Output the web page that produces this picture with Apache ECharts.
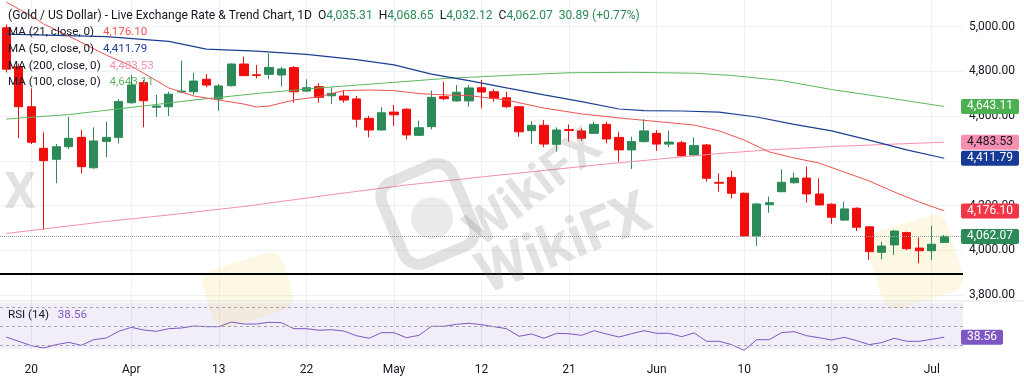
<!DOCTYPE html>
<html>
<head>
<meta charset="utf-8">
<script src="https://cdn.jsdelivr.net/npm/echarts@6.0.0/dist/echarts.min.js"></script>
<style>
  html, body { margin: 0; padding: 0; background: #fff; }
  #chart { width: 1024px; height: 390px; }
</style>
</head>
<body>
<div id="chart"></div>
<script>
// trading days, Mar 18 .. Jul 3 (last one is empty room on the right)
const dates = [
  "2026-03-18", "2026-03-19", "2026-03-20", "2026-03-23", "2026-03-24", "2026-03-25", "2026-03-26", "2026-03-27", "2026-03-30", "2026-03-31",
  "2026-04-01", "2026-04-02", "2026-04-06", "2026-04-07", "2026-04-08", "2026-04-09", "2026-04-10", "2026-04-13", "2026-04-14", "2026-04-15",
  "2026-04-16", "2026-04-17", "2026-04-20", "2026-04-21", "2026-04-22", "2026-04-23", "2026-04-24", "2026-04-27", "2026-04-28", "2026-04-29",
  "2026-04-30", "2026-05-01", "2026-05-04", "2026-05-05", "2026-05-06", "2026-05-07", "2026-05-08", "2026-05-11", "2026-05-12", "2026-05-13",
  "2026-05-14", "2026-05-15", "2026-05-18", "2026-05-19", "2026-05-20", "2026-05-21", "2026-05-22", "2026-05-25", "2026-05-26", "2026-05-27",
  "2026-05-28", "2026-05-29", "2026-06-01", "2026-06-02", "2026-06-03", "2026-06-04", "2026-06-05", "2026-06-08", "2026-06-09", "2026-06-10",
  "2026-06-11", "2026-06-12", "2026-06-15", "2026-06-16", "2026-06-17", "2026-06-18", "2026-06-19", "2026-06-22", "2026-06-23", "2026-06-24",
  "2026-06-25", "2026-06-26", "2026-06-29", "2026-06-30", "2026-07-01", "2026-07-02", "2026-07-03"
];
const tickIdx = [2, 10, 17, 24, 31, 38, 45, 52, 59, 66, 74];
const tickText = ["20", "Apr", "13", "22", "May", "12", "21", "Jun", "10", "19", "Jul"];

const opens = [
  4995, 4821, 4642, 4456, 4407, 4463, 4505, 4369, 4487, 4505,
  4660, 4750, 4640, 4642, 4708, 4709, 4765, 4677, 4736, 4833,
  4785, 4787, 4784, 4817, 4712, 4732, 4691, 4690, 4677, 4590,
  4538, 4618, 4631, 4514, 4553, 4687, 4668, 4668, 4727, 4709,
  4682, 4642, 4535, 4559, 4474, 4540, 4534, 4523, 4563, 4505,
  4449, 4486, 4523, 4475, 4481, 4426, 4471, 4304, 4326, 4255,
  4064, 4204, 4262, 4302, 4323, 4252, 4206, 4135, 4188, 4105,
  3991, 4024, 4079, 4010, 3998, 4035.31
];
const closes = [
  4810, 4642, 4483, 4401, 4463, 4501, 4374, 4489, 4505, 4665,
  4739, 4669, 4645, 4698, 4712, 4757, 4739, 4735, 4833, 4781,
  4782, 4818, 4811, 4709, 4727, 4684, 4702, 4672, 4586, 4538,
  4615, 4606, 4516, 4548, 4684, 4678, 4707, 4726, 4708, 4680,
  4642, 4530, 4559, 4475, 4538, 4536, 4501, 4563, 4498, 4449,
  4486, 4534, 4475, 4484, 4423, 4468, 4322, 4300, 4255, 4064,
  4207, 4213, 4304, 4323, 4252, 4203, 4148, 4185, 4103, 3994,
  4019, 4086, 4007, 3998, 4027, 4062.07
];
const lows = [
  4795, 4501, 4475, 4091, 4300, 4452, 4344, 4365, 4416, 4478,
  4655, 4550, 4597, 4601, 4702, 4695, 4729, 4624, 4733, 4779,
  4769, 4765, 4732, 4660, 4709, 4660, 4654, 4660, 4550, 4505,
  4535, 4556, 4496, 4512, 4541, 4672, 4665, 4642, 4635, 4665,
  4637, 4508, 4475, 4461, 4441, 4486, 4490, 4520, 4478, 4396,
  4364, 4483, 4444, 4461, 4418, 4420, 4307, 4262, 4232, 4062,
  4020, 4168, 4260, 4298, 4213, 4200, 4118, 4132, 4086, 3957,
  3960, 3979, 4001, 3942, 3957, 4032.12
];
const highs = [
  5010, 4835, 4724, 4528, 4475, 4597, 4538, 4550, 4575, 4677,
  4784, 4762, 4695, 4709, 4848, 4794, 4788, 4744, 4836, 4866,
  4829, 4881, 4821, 4824, 4765, 4747, 4729, 4717, 4690, 4602,
  4640, 4650, 4635, 4580, 4714, 4754, 4739, 4739, 4762, 4720,
  4709, 4646, 4578, 4583, 4550, 4563, 4546, 4575, 4575, 4530,
  4508, 4586, 4538, 4535, 4490, 4505, 4475, 4344, 4356, 4258,
  4212, 4240, 4362, 4347, 4374, 4322, 4210, 4217, 4192, 4108,
  4038, 4090, 4083, 4058, 4109, 4068.65
];

// moving averages: [day index, value]
const ma21 = [
  [0, 5110], [2, 5048], [3, 5012], [5, 4958], [8, 4873], [10, 4824], [13, 4726], [15, 4690],
  [17, 4672], [19, 4654], [20, 4641], [21, 4645], [23, 4672], [25, 4687], [27, 4714], [29, 4717],
  [31, 4714], [33, 4701], [35, 4695], [37, 4692], [40, 4672], [43, 4636], [46, 4610], [49, 4592],
  [52, 4576], [55, 4560], [57, 4534], [59, 4493], [61, 4440], [63, 4413], [65, 4390], [67, 4350],
  [69, 4310], [71, 4261], [73, 4216], [75, 4176.10]
];
const ma50 = [
  [0, 4967], [8, 4956], [13, 4934], [16, 4900], [20, 4891], [24, 4876], [28, 4853], [31, 4829],
  [34, 4788], [37, 4759], [40, 4726], [43, 4695], [46, 4665], [49, 4632], [51, 4625], [54, 4623],
  [57, 4618], [60, 4596], [63, 4563], [66, 4534], [69, 4493], [72, 4449], [75, 4411.79]
];
const ma100 = [
  [0, 4587], [5, 4607], [10, 4639], [15, 4672], [20, 4701], [25, 4726], [30, 4747], [35, 4768],
  [40, 4782], [45, 4794], [50, 4796], [55, 4792], [58, 4782], [62, 4759], [66, 4719], [70, 4686],
  [75, 4643.11]
];
const ma200 = [
  [0, 4075], [8, 4129], [13, 4158], [19, 4196], [27, 4256], [32, 4292], [38, 4328], [48, 4386],
  [57, 4433], [61, 4449], [66, 4464], [75, 4483.53]
];

const rsi = [
  38.7, 34.2, 29.6, 27.2, 30.7, 33.1, 30.0, 35.9, 37.7, 44.7,
  48.9, 46.1, 44.7, 47.5, 48.2, 50.3, 49.6, 49.6, 54.5, 52.4,
  52.4, 54.2, 53.8, 47.5, 47.5, 45.8, 46.4, 45.0, 40.1, 37.4,
  43.3, 43.3, 38.0, 40.5, 50.0, 50.0, 52.1, 53.2, 51.7, 49.6,
  47.5, 39.5, 41.9, 37.4, 42.6, 42.2, 40.5, 45.4, 41.9, 38.7,
  42.2, 45.4, 42.6, 42.6, 39.1, 43.0, 34.2, 34.2, 30.7, 24.7,
  35.9, 35.9, 43.3, 44.4, 40.1, 38.0, 35.6, 38.4, 34.9, 30.7,
  32.8, 37.4, 34.2, 34.2, 36.3, 38.56
];

const supportLevel = 3897;

const UP = "#2b8a57";
const DOWN = "#f20d0d";
const FONT = "Roboto";
const GRID_LINE = "#eef0f5";

// price scale: labels 3,800..5,000 between y=26.7 and y=295, main pane is 0..300
const labelTop = 26.7;
const labelHeight = 268.3;
const pxPerUnit = labelHeight / 1200;
const mainMax = 5000 + labelTop / pxPerUnit;
const mainMin = 3800 - (300 - labelTop - labelHeight) / pxPerUnit;

const candles = opens.map((o, i) => [o, closes[i], lows[i], highs[i]]);
const lastIdx = closes.length - 1;

const fmt = (v) => v.toLocaleString("en-US", { minimumFractionDigits: 2, maximumFractionDigits: 2 });

const chart = echarts.init(document.getElementById("chart"), null, { renderer: "canvas" });

const option = {
  animation: false,
  backgroundColor: "#ffffff",
  textStyle: { fontFamily: FONT },
  grid: [
    { left: -5.6, right: 61, top: 0, height: 300 },
    { left: -5.6, right: 61, top: 299.7, height: 53.2 },
    { left: -5.6, right: 61, top: labelTop, height: labelHeight }
  ],
  xAxis: [
    {
      type: "category",
      gridIndex: 0,
      data: dates,
      boundaryGap: true,
      axisLine: { show: false },
      axisTick: { show: false },
      axisLabel: { show: false },
      splitLine: {
        show: true,
        alignWithLabel: true,
        interval: (i) => tickIdx.includes(i),
        lineStyle: { color: GRID_LINE, width: 1 }
      }
    },
    {
      type: "category",
      gridIndex: 1,
      data: dates,
      boundaryGap: true,
      axisLine: { show: false },
      axisTick: { show: false },
      axisLabel: {
        interval: (i) => tickIdx.includes(i),
        formatter: (v, i) => tickText[tickIdx.indexOf(i)] || "",
        color: "#131722",
        fontSize: 12,
        fontFamily: FONT,
        margin: 11
      },
      splitLine: {
        show: true,
        alignWithLabel: true,
        interval: (i) => tickIdx.includes(i),
        lineStyle: { color: GRID_LINE, width: 1 }
      }
    },
    { type: "value", gridIndex: 2, min: 0, max: 1, show: false }
  ],
  yAxis: [
    { type: "value", gridIndex: 0, min: mainMin, max: mainMax, show: false },
    { type: "value", gridIndex: 1, min: 22, max: 78, show: false },
    {
      type: "value",
      gridIndex: 2,
      position: "right",
      min: 3800,
      max: 5000,
      interval: 200,
      axisLine: { show: false },
      axisTick: { show: false },
      axisLabel: {
        formatter: (v) => fmt(v),
        color: "#131722",
        fontSize: 12,
        fontFamily: FONT,
        margin: 6
      },
      splitLine: { lineStyle: { color: GRID_LINE, width: 1 } }
    }
  ],
  series: [
    {
      name: "MA200",
      type: "line",
      xAxisIndex: 0,
      yAxisIndex: 0,
      data: ma200,
      showSymbol: false,
      silent: true,
      lineStyle: { color: "#f48fb1", width: 1 }
    },
    {
      name: "MA100",
      type: "line",
      xAxisIndex: 0,
      yAxisIndex: 0,
      data: ma100,
      showSymbol: false,
      silent: true,
      lineStyle: { color: "#5cb860", width: 1 }
    },
    {
      name: "MA50",
      type: "line",
      xAxisIndex: 0,
      yAxisIndex: 0,
      data: ma50,
      showSymbol: false,
      silent: true,
      lineStyle: { color: "#1c3f94", width: 1.2 }
    },
    {
      name: "MA21",
      type: "line",
      xAxisIndex: 0,
      yAxisIndex: 0,
      data: ma21,
      showSymbol: false,
      silent: true,
      lineStyle: { color: "#ef5350", width: 1 }
    },
    {
      name: "XAUUSD",
      type: "candlestick",
      xAxisIndex: 0,
      yAxisIndex: 0,
      data: candles,
      barWidth: "70%",
      itemStyle: {
        color: UP,
        color0: DOWN,
        borderColor: UP,
        borderColor0: DOWN,
        borderWidth: 1
      },
      markLine: {
        silent: true,
        symbol: ["none", "none"],
        label: { show: false },
        data: [
          { yAxis: supportLevel, lineStyle: { color: "#000000", width: 2, type: "solid" } },
          { yAxis: closes[lastIdx], lineStyle: { color: "#9a9ea8", width: 1, type: "dotted" } }
        ]
      }
    },
    {
      name: "RSI",
      type: "line",
      xAxisIndex: 1,
      yAxisIndex: 1,
      data: rsi,
      showSymbol: false,
      silent: true,
      lineStyle: { color: "#7e57c2", width: 1 },
      markArea: {
        silent: true,
        itemStyle: { color: "rgba(126,87,194,0.1)" },
        data: [[{ yAxis: 26.5 }, { yAxis: 74.5 }]]
      },
      markLine: {
        silent: true,
        symbol: ["none", "none"],
        label: { show: false },
        lineStyle: { color: "#a3a6af", width: 1, type: [3, 3] },
        data: [{ yAxis: 70 }, { yAxis: 50 }, { yAxis: 30 }]
      }
    }
  ]
};

chart.setOption(option);

// legend texts, top left
const txt = (y, text, rich, size) => ({
  type: "text",
  x: 8,
  y: y,
  z: 20,
  style: {
    text: text,
    fontFamily: FONT,
    fontSize: size,
    fill: "#131722",
    verticalAlign: "middle",
    rich: rich
  }
});
const sty = (color, size) => ({ fill: color, fontSize: size, fontFamily: FONT });
const maRich = (color) => ({ d: sty("#131722", 11.6), v: Object.assign(sty(color, 11.6), { padding: [0, 0, 0, 3] }) });
const legendEls = [
  txt(15.7,
    "{d|(Gold / US Dollar) - Live Exchange Rate & Trend Chart, 1D}  {d|O}{g|4,035.31}  {d|H}{g|4,068.65}  {d|L}{g|4,032.12}  {d|C}{g|4,062.07}  {g|30.89 (+0.77%)}",
    { d: sty("#131722", 12.1), g: sty("#2b8a57", 12.1) }, 12.1),
  txt(32.3, "{d|MA (21, close, 0)}  {v|" + fmt(ma21[ma21.length - 1][1]) + "}", maRich("#ef5350"), 11.6),
  txt(49.3, "{d|MA (50, close, 0)}  {v|" + fmt(ma50[ma50.length - 1][1]) + "}", maRich("#1c3f94"), 11.6),
  txt(66, "{d|MA (200, close, 0)}  {v|" + fmt(ma200[ma200.length - 1][1]) + "}", maRich("#f48fb1"), 11.6),
  txt(82.5, "{d|MA (100, close, 0)}  {v|" + fmt(ma100[ma100.length - 1][1]) + "}", maRich("#5cb860"), 11.6),
  txt(315.5, "{d|RSI (14)}  {v|" + rsi[rsi.length - 1].toFixed(2) + "}", maRich("#7e57c2"), 11.6)
];

// WikiFX watermark
const WM = "rgba(110,110,110,0.2)";
const watermarkEls = [
  { type: "rect", x: 915, y: 262, rotation: 0.3, z: 1, shape: { x: -42, y: -40, width: 84, height: 80, r: 14 }, style: { fill: "rgba(246,220,120,0.2)" } },
  { type: "rect", x: 248, y: 290, rotation: 0.3, z: 1, shape: { x: -42, y: -30, width: 84, height: 60, r: 14 }, style: { fill: "rgba(246,220,120,0.2)" } },
  { type: "rect", x: 428, y: 214, rotation: 0.4, z: 21, shape: { x: -38, y: -44, width: 76, height: 88, r: 16 }, style: { fill: "none", stroke: WM, lineWidth: 11 } },
  { type: "circle", x: 432, y: 218, z: 21, shape: { r: 21 }, style: { fill: "rgba(110,110,110,0.14)" } },
  { type: "text", x: 535, y: 190, rotation: 0.66, z: 21, style: { text: "WikiFX", fontFamily: FONT, fontWeight: "bold", fontSize: 50, fill: WM, align: "center", verticalAlign: "middle" } },
  { type: "text", x: 565, y: 247, rotation: 0.38, z: 21, style: { text: "WikiFX", fontFamily: FONT, fontWeight: "bold", fontSize: 58, fill: WM, align: "center", verticalAlign: "middle" } },
  { type: "text", x: 20, y: 195, z: 21, style: { text: "X", fontFamily: FONT, fontWeight: "bold", fontSize: 50, fill: WM, align: "center", verticalAlign: "middle" } }
];

// pane separator
const sepEls = [
  { type: "line", z: 5, shape: { x1: 0, y1: 301, x2: 1024, y2: 301 }, style: { stroke: "#e0e3eb", lineWidth: 1 } }
];

// value tags on the price scale, placed through the axes
const tagDefs = [
  { v: ma100[ma100.length - 1][1], bg: "#4caf50", fg: "#ffffff" },
  { v: ma200[ma200.length - 1][1], bg: "#f48fb1", fg: "#131722" },
  { v: ma50[ma50.length - 1][1], bg: "#173b95", fg: "#ffffff" },
  { v: ma21[ma21.length - 1][1], bg: "#f23645", fg: "#ffffff" },
  { v: closes[lastIdx], bg: "#2b8a57", fg: "#ffffff" }
];
const tagEls = [];
let prevY = -100;
tagDefs.forEach((t) => {
  let y = chart.convertToPixel({ xAxisIndex: 0, yAxisIndex: 0 }, [lastIdx, t.v])[1];
  if (y - prevY < 16) y = prevY + 16;
  prevY = y;
  tagEls.push({ type: "rect", z: 30, shape: { x: 961, y: y - 7.5, width: 58, height: 15, r: 2 }, style: { fill: t.bg } });
  tagEls.push({ type: "text", z: 31, x: 990, y: y, style: { text: fmt(t.v), fontFamily: FONT, fontSize: 12, fill: t.fg, align: "center", verticalAlign: "middle" } });
});
const rsiY = chart.convertToPixel({ xAxisIndex: 1, yAxisIndex: 1 }, [lastIdx, rsi[lastIdx]])[1];
tagEls.push({ type: "rect", z: 30, shape: { x: 961, y: rsiY - 7.5, width: 42, height: 15, r: 2 }, style: { fill: "#7e57c2" } });
tagEls.push({ type: "text", z: 31, x: 982, y: rsiY, style: { text: rsi[lastIdx].toFixed(2), fontFamily: FONT, fontSize: 12, fill: "#ffffff", align: "center", verticalAlign: "middle" } });

chart.setOption({ graphic: [].concat(watermarkEls, sepEls, legendEls, tagEls) });
</script>
</body>
</html>
